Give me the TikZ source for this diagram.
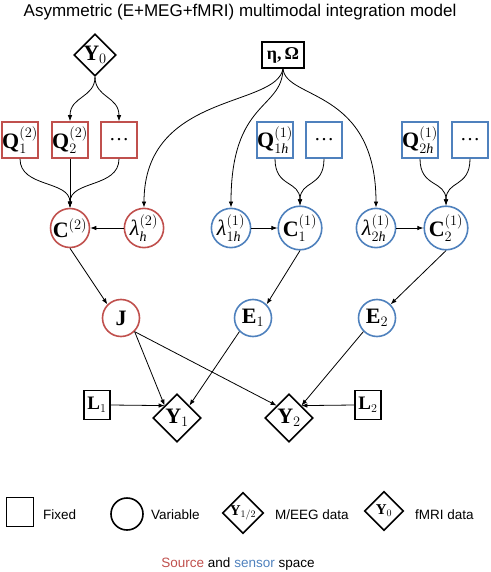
\documentclass[tikz,border=0pt]{standalone}
\usepackage{amsmath}
\usepackage{fontspec}
\setmainfont{Liberation Serif}
\newfontfamily\arial{Liberation Sans}
\usetikzlibrary{shapes.geometric,arrows.meta}
\definecolor{srcred}{HTML}{C0504D}
\definecolor{senblue}{HTML}{4F81BD}
\DeclareMathSizes{22}{22}{14}{10}
\DeclareMathSizes{19}{19}{12.5}{9}
\DeclareMathSizes{15}{15}{10}{7}
\begin{document}
\begin{tikzpicture}[x=1pt,y=-1pt,
  lab/.style={font=\fontsize{22}{26}\selectfont\bfseries, text=black, inner sep=0pt},
  fixedbox/.style={lab, draw, line width=1.6pt, rectangle, minimum size=36pt},
  varcirc/.style={lab, draw, line width=1.6pt, circle, minimum size=37pt},
  datadia/.style={lab, draw, line width=1.6pt, diamond, aspect=1},
  dots/.style={font=\fontsize{20}{24}\selectfont\mdseries},
  srcnode/.style={draw=srcred},
  sennode/.style={draw=senblue},
  conn/.style={line width=0.8pt, -{Latex[length=6pt,width=4.5pt]}},
  legtext/.style={font=\arial\fontsize{13.5}{16}\selectfont, inner sep=0pt}
]
\useasboundingbox (0,0) rectangle (490,572);

% title
\node[font=\arial\fontsize{17}{20}\selectfont, anchor=base, inner sep=0pt] (title) at (240,16.5) {Asymmetric (E+MEG+fMRI) multimodal integration model};

% top nodes
\node[datadia, minimum size=42pt] (Y0) at (95,55) {$\mathbf{Y}_0$};
\node[fixedbox, minimum width=42pt, minimum height=26pt, font=\fontsize{18}{21}\selectfont\bfseries] (eta) at (283,55) {η,\,Ω};

% Q boxes
\node[fixedbox, srcnode] (Q1) at (20,140) {$\mathbf{Q}_1^{(2)}$};
\node[fixedbox, srcnode] (Q2) at (70,140) {$\mathbf{Q}_2^{(2)}$};
\node[fixedbox, srcnode, dots] (Qd) at (119,140) {…};
\node[fixedbox, sennode] (Q1h) at (275,140) {$\mathbf{Q}_{1\mathit{h}}^{(1)}$};
\node[fixedbox, sennode, dots] (Q1d) at (324,140) {…};
\node[fixedbox, sennode] (Q2h) at (420,140) {$\mathbf{Q}_{2\mathit{h}}^{(1)}$};
\node[fixedbox, sennode, dots] (Q2d) at (470,140) {…};

% circles
\node[varcirc, srcnode] (C2) at (70,228) {$\mathbf{C}^{(2)}$};
\node[varcirc, srcnode, font=\fontsize{22}{26}\selectfont] (lam2) at (144,228) {$\text{\itshape λ}_{\mathit{h}}^{(2)}$};
\node[varcirc, sennode, font=\fontsize{22}{26}\selectfont] (lam1) at (231,228) {$\text{\itshape λ}_{1\mathit{h}}^{(1)}$};
\node[varcirc, sennode] (C1) at (300,228) {$\mathbf{C}_1^{(1)}$};
\node[varcirc, sennode, font=\fontsize{22}{26}\selectfont] (lam2h) at (376,228) {$\text{\itshape λ}_{2\mathit{h}}^{(1)}$};
\node[varcirc, sennode] (C1b) at (446,228) {$\mathbf{C}_2^{(1)}$};

\node[varcirc, srcnode] (J) at (121,318) {$\mathbf{J}$};
\node[varcirc, sennode] (E1) at (253,318) {$\mathbf{E}_1$};
\node[varcirc, sennode] (E2) at (377,318) {$\mathbf{E}_2$};

% bottom
\node[fixedbox, minimum width=26pt, minimum height=29pt, font=\fontsize{19}{22}\selectfont\bfseries] (L1) at (97,405) {$\mathbf{L}_1$};
\node[datadia, minimum size=48pt] (Y1) at (177,418) {$\mathbf{Y}_1$};
\node[datadia, minimum size=48pt] (Y2) at (289,418) {$\mathbf{Y}_2$};
\node[fixedbox, minimum width=26pt, minimum height=29pt, font=\fontsize{19}{22}\selectfont\bfseries] (L2) at (368,405) {$\mathbf{L}_2$};

% connectors
\draw[conn] (Y0.south) .. controls (95,98) and (70,96) .. (Q2.north);
\draw[conn] (Y0.south) .. controls (95,98) and (119,96) .. (Qd.north);
\draw[conn] (eta.south) .. controls (276,108) and (144,92) .. (lam2.north);
\draw[conn] (eta.south) .. controls (282,110) and (231,100) .. (lam1.north);
\draw[conn] (eta.south) .. controls (286,100) and (376,88) .. (lam2h.north);

\draw[conn] (Q1.south) .. controls (20,188) and (70,180) .. (C2.north);
\draw[conn] (Q2.south) -- (C2.north);
\draw[conn] (Qd.south) .. controls (119,188) and (70,180) .. (C2.north);
\draw[conn] (Q1h.south) .. controls (275,188) and (300,180) .. (C1.north);
\draw[conn] (Q1d.south) .. controls (324,188) and (300,180) .. (C1.north);
\draw[conn] (Q2h.south) .. controls (420,188) and (446,180) .. (C1b.north);
\draw[conn] (Q2d.south) .. controls (470,188) and (446,180) .. (C1b.north);

\draw[conn] (lam2) -- (C2);
\draw[conn] (lam1) -- (C1);
\draw[conn] (lam2h) -- (C1b);

\draw[conn] (C2.south) -- (J.north west);
\draw[conn] (C1.south) -- (E1.north east);
\draw[conn] (C1b.south) -- (E2.north east);

\draw[conn] (J.south east) -- (Y1.north west);
\draw[conn] (J.south east) -- (Y2.north west);
\draw[conn] (E1.south west) -- (Y1.north east);
\draw[conn] (E2.south west) -- (Y2.north east);
\draw[conn] (L1.east) -- (Y1.north west);
\draw[conn] (L2.west) -- (Y2.north east);

% legend
\node[fixedbox, minimum width=27pt, minimum height=29pt] (legsq) at (20,512) {};
\node[legtext, anchor=base west] (tfixed) at (43,519) {Fixed};
\node[varcirc, minimum size=32pt] (legci) at (127,514) {};
\node[legtext, anchor=base west] (tvar) at (151,519) {Variable};
\node[datadia, minimum size=39pt, font=\fontsize{15}{18}\selectfont] (legd1) at (243,513) {$\mathbf{Y}_{1/2}$};
\node[legtext, anchor=base west] (tmeeg) at (275,519) {M/EEG data};
\node[datadia, minimum size=39pt, font=\fontsize{15}{18}\selectfont] (legd0) at (384,511) {$\mathbf{Y}_0$};
\node[legtext, anchor=base west] (tfmri) at (415,519) {fMRI data};
\node[legtext, anchor=base] (tspace) at (238,567) {\textcolor{srcred}{Source} and \textcolor{senblue}{sensor} space};
\end{tikzpicture}
\end{document}
